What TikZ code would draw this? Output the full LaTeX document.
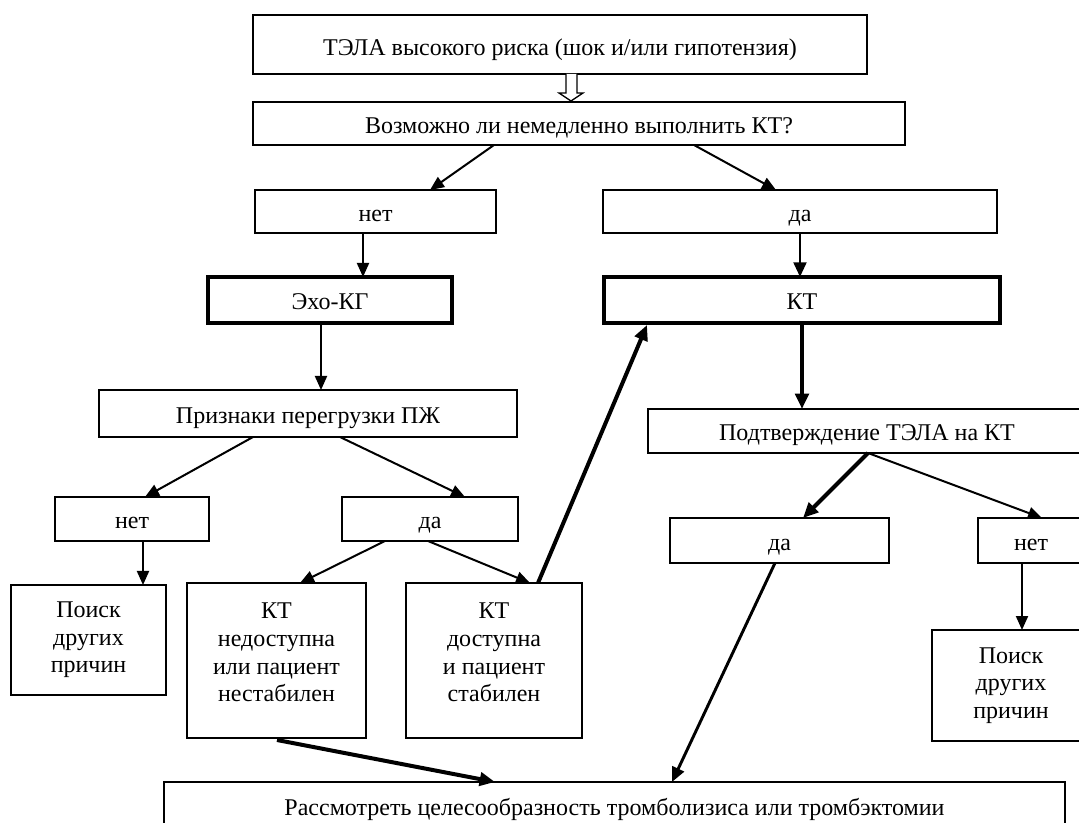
\documentclass[tikz,border=0pt]{standalone}
\usepackage{fontspec}
\setmainfont{Liberation Serif}
\usetikzlibrary{arrows.meta,calc}
\begin{document}
\begin{tikzpicture}[x=0.75pt,y=-0.75pt,
 bx/.style={draw,line width=1pt,inner sep=0pt,outer sep=0pt,fill=white,
   font=\fontsize{18}{20.7}\selectfont},
 box/.style={bx,align=center},
 one/.style={bx,text height=15pt,text depth=0.5pt},
 tbox/.style={one,line width=3pt},
 con/.style={line width=1.5pt,-{Triangle[length=10.5pt,width=9pt]}},
 mcon/.style={line width=2.2pt,-{Triangle[length=11pt,width=9.5pt]}},
 tcon/.style={line width=3pt,-{Triangle[length=11.5pt,width=10pt]}}]
\useasboundingbox (0,0) rectangle (1079,823);
\clip (0,0) rectangle (1079,823);
\fill[white] (0,0) rectangle (1079,823);
% boxes
\node[one,text height=17pt,minimum width=460.5pt,minimum height=44.25pt] (b1) at (560,44.5) {ТЭЛА высокого риска (шок и/или гипотензия)};
\node[one,minimum width=489pt,minimum height=32.25pt] (b2) at (579,123.5) {Возможно ли немедленно выполнить КТ?};
\node[one,minimum width=180.75pt,minimum height=32.25pt] (n1) at (375.5,211.5) {нет};
\node[one,minimum width=295.5pt,minimum height=32.25pt] (d1) at (800,211.5) {да};
\node[tbox,minimum width=183pt,minimum height=34.5pt] (e) at (330,300) {Эхо-КГ};
\node[tbox,minimum width=297pt,minimum height=34.5pt] (kt) at (802,300) {КТ};
\node[one,minimum width=313.5pt,minimum height=35.25pt] (pr) at (308,413.5) {Признаки перегрузки ПЖ};
\node[one,minimum width=328.5pt,minimum height=33pt] (pt) at (867,431) {Подтверждение ТЭЛА на КТ};
\node[one,minimum width=115.5pt,minimum height=33pt] (n2) at (132,519) {нет};
\node[one,minimum width=132pt,minimum height=33pt] (d2) at (430,519) {да};
\node[box,minimum width=116.25pt,minimum height=82.5pt] (p1) at (88.5,640) {Поиск\\других\\причин};
\node[box,minimum width=134.25pt,minimum height=116.25pt] (k1) at (276.5,660.5) {КТ\\недоступна\\или пациент\\нестабилен\\[-8.6pt]\mbox{}};
\node[box,minimum width=132pt,minimum height=116.25pt] (k2) at (494,660.5) {КТ\\доступна\\и пациент\\стабилен\\[-8.6pt]\mbox{}};
\node[one,minimum width=164.25pt,minimum height=33.75pt] (d3) at (779.5,540.5) {да};
\node[one,minimum width=79.5pt,minimum height=33.75pt] (n3) at (1031,540.5) {нет};
\node[box,minimum width=118.5pt,minimum height=83.25pt] (p2) at (1011,685.5) {Поиск\\других\\причин};
\node[one,minimum width=675.75pt,minimum height=36pt] (bt) at (614.5,806) {Рассмотреть целесообразность тромболизиса или тромбэктомии};
% hollow arrow
\draw[line width=1pt,fill=white] ($(b1.south west)+(313,0)$) -- ++(0,19) -- ++(-7,0) -- ++(12,8) -- ++(12,-8) -- ++(-6,0) -- ++(0,-19);
% connectors
\draw[con] ($(b2.south west)+(241,0)$) -- ($(n1.north west)+(175,0)$);
\draw[con] ($(b2.south west)+(441,0)$) -- ($(d1.north west)+(173,0)$);
\draw[con] ($(n1.south west)+(108,0)$) -- ($(e.north west)+(155,0)$);
\draw[mcon] ($(d1.south west)+(197,0)$) -- ($(kt.north west)+(196,0)$);
\draw[con] ($(e.south west)+(113,0)$) -- ($(pr.north west)+(222,0)$);
\draw[tcon] ($(kt.south west)+(198,0)$) -- ($(pt.north west)+(154,0)$);
\draw[con] ($(pr.south west)+(154,0)$) -- ($(n2.north west)+(90,0)$);
\draw[con] ($(pr.south west)+(241,0)$) -- ($(d2.north west)+(123,0)$);
\draw[con] ($(n2.south west)+(88,0)$) -- ($(p1.north west)+(132,0)$);
\draw[con] ($(d2.south west)+(43,0)$) -- ($(k1.north west)+(113,0)$);
\draw[con] ($(d2.south west)+(86,0)$) -- ($(k2.north west)+(124,0)$);
\draw[tcon] ($(k2.north west)+(132,0)$) -- ($(kt.south west)+(43,2)$);
\draw[tcon] ($(pt.south west)+(220,0)$) -- ($(d3.north west)+(133,0)$);
\draw[con] ($(pt.south west)+(220,0)$) -- ($(n3.north west)+(64,0)$);
\draw[con] ($(n3.south west)+(44,0)$) -- ($(p2.north west)+(90,0)$);
\draw[mcon] ($(d3.south west)+(105,0)$) -- ($(bt.north west)+(508,0)$);
\draw[tcon] ($(k1.south west)+(90,2)$) -- ($(bt.north west)+(331,0)$);
\end{tikzpicture}
\end{document}
